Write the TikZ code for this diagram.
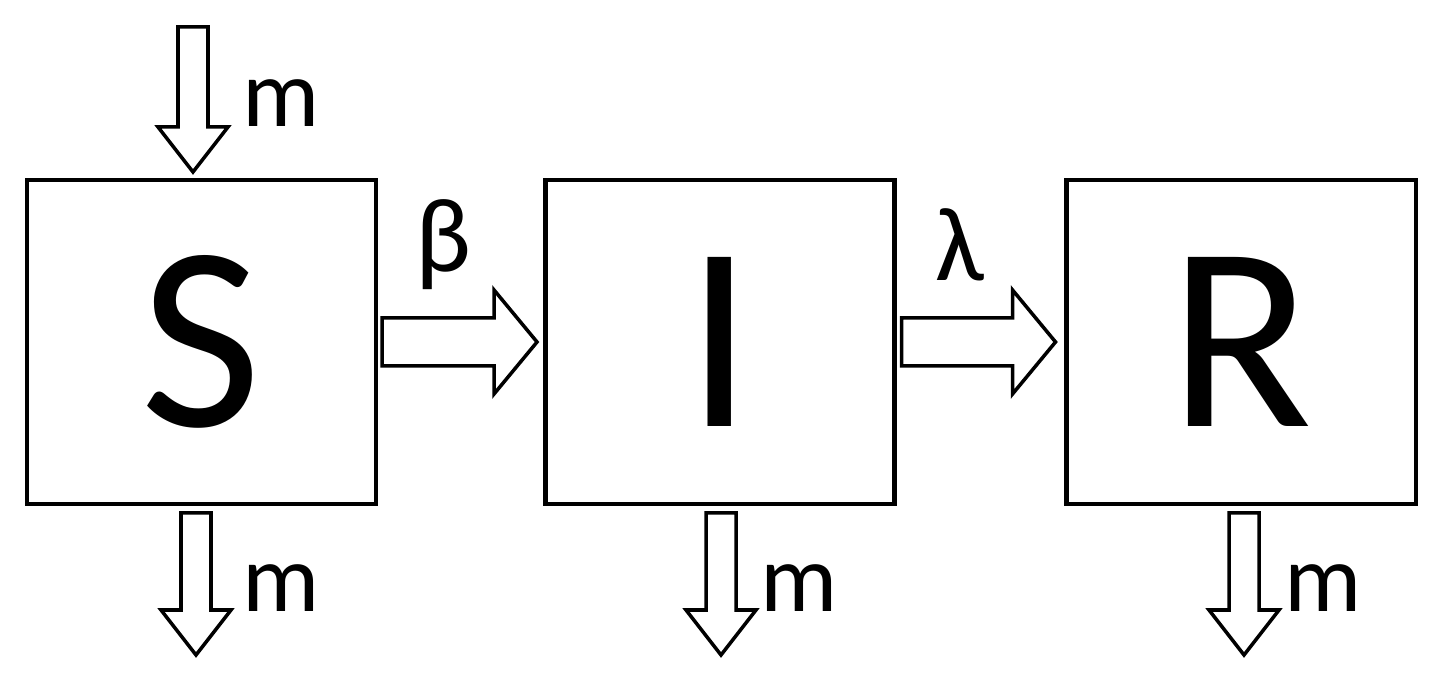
\documentclass[tikz,border=0pt]{standalone}
\usepackage{fontspec}
\setmainfont{Carlito}
\usetikzlibrary{positioning, calc}

\begin{document}
\begin{tikzpicture}[
    compartment/.style={
        draw, line width=2.3pt, minimum width=6.98cm, minimum height=6.48cm,
        inner sep=0pt, font=\fontsize{150}{150}\selectfont
    },
    rate/.style={font=\fontsize{60}{60}\selectfont, inner sep=0pt},
    outflow/.style={font=\fontsize{55}{55}\selectfont, inner sep=0pt},
    hflow/.pic={
        \draw[line width=2pt, line join=miter] (0,-0.48) -- (#1-0.86,-0.48) -- (#1-0.86,-1.04)
            -- (#1,0) -- (#1-0.86,1.04) -- (#1-0.86,0.48) -- (0,0.48) -- cycle;
    },
    vflow/.pic={
        \draw[line width=2pt, line join=miter] (-0.3,0) -- (-0.3,-#1+0.9) -- (-0.7,-#1+0.9)
            -- (0,-#1) -- (0.7,-#1+0.9) -- (0.3,-#1+0.9) -- (0.3,0) -- cycle;
    }
]
\useasboundingbox (0,0) rectangle (28.96,13.78);

% Compartments
\node[compartment] (s) at (4.03, 6.94) {S};
\node[compartment] (i) at (14.40, 6.94) {I};
\node[compartment] (r) at (24.82, 6.94) {R};

% Transfers between compartments
\pic at ($(s.east)+(0.08,0)$) {hflow=3.1};
\pic at ($(i.east)+(0.1,0)$) {hflow=3.08};
\node[rate] (beta) at (8.86, 8.88) {β};
\node[rate] (lambda) at (19.2, 8.88) {λ};

% Births and deaths
\pic at (3.86, 13.24) {vflow=2.9};
\node[outflow] (min) at (5.62, 11.72) {m};
\pic at (3.92, 3.52) {vflow=2.84};
\pic at (14.42, 3.52) {vflow=2.84};
\pic at (24.88, 3.52) {vflow=2.84};
\node[outflow] (ms) at (5.62, 2.02) {m};
\node[outflow] (mi) at (15.98, 2.02) {m};
\node[outflow] (mr) at (26.46, 2.02) {m};

\end{tikzpicture}
\end{document}
